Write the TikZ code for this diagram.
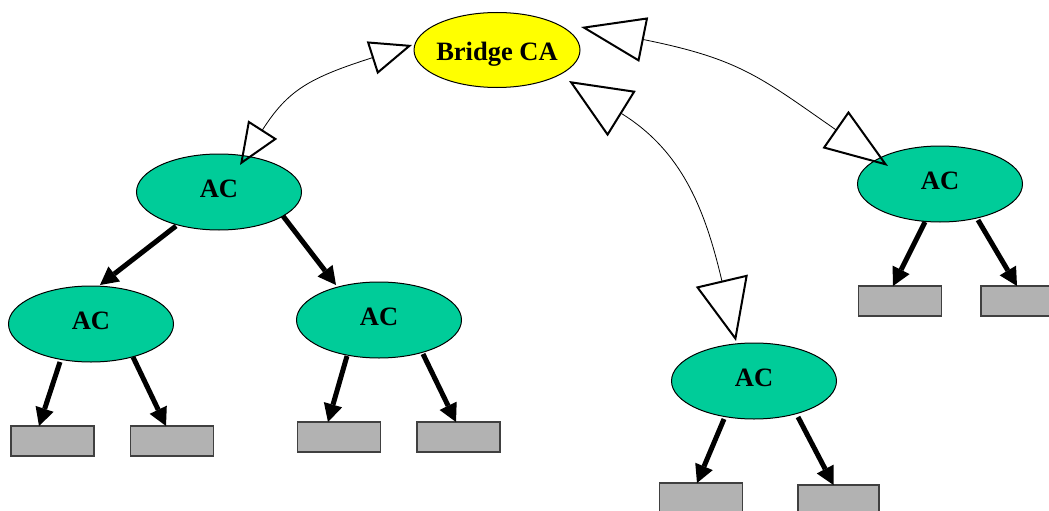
\documentclass[tikz,border=0pt]{standalone}
\usepackage{fontspec}
\setmainfont{Liberation Serif}
\usetikzlibrary{arrows.meta,calc,shapes.geometric}

\definecolor{acgreen}{HTML}{00CC99}
\definecolor{bridgeyellow}{HTML}{FFFF00}
\definecolor{leafgray}{HTML}{B2B2B2}

\tikzset{
  smallhead/.tip={Triangle[open,length=42pt,width=34pt,line width=2pt]},
  bighead/.tip={Triangle[open,length=64pt,width=45pt,line width=2pt]},
  widehead/.tip={Triangle[open,length=62pt,width=53pt,line width=2pt]}
}

\begin{document}
\begin{tikzpicture}[x=1pt,y=-1pt,
  ca/.style={ellipse, draw=black, line width=1pt, inner sep=0pt, outer sep=0pt,
    font=\fontsize{26.5}{30}\selectfont\bfseries},
  acnode/.style={ca, fill=acgreen, minimum width=165pt, minimum height=76pt, text depth=6pt},
  bridgenode/.style={ca, fill=bridgeyellow, minimum width=166pt, minimum height=75pt,
    inner xsep=-4pt, text height=22pt, text depth=0pt},
  leaf/.style={rectangle, draw=black!75, line width=1.2pt, fill=leafgray,
    minimum width=83pt, minimum height=30pt, inner sep=0pt, outer sep=0pt},
  tree/.style={line width=5pt, -{Triangle[length=18pt,width=19pt,line width=0pt]}},
  link/.style={line width=0.8pt}
]
\useasboundingbox (0,0) rectangle (1049,511);
\clip (0,0) rectangle (1049,511);

% certification authorities
\node[bridgenode] (bridge) at (497,50) {Bridge CA};
\node[acnode] (ac1) at (219,192) {AC};
\node[acnode] (ac2) at (91,324) {AC};
\node[acnode] (ac3) at (379,320) {AC};
\node[acnode] (ac4) at (940,184) {AC};
\node[acnode] (ac5) at (754,381) {AC};

% end entities
\node[leaf] (l1) at (52.5,441) {};
\node[leaf] (l2) at (172,441) {};
\node[leaf] (l3) at (339,437) {};
\node[leaf] (l4) at (458.5,437) {};
\node[leaf] (l5) at (701,498) {};
\node[leaf, minimum width=81pt] (l6) at (838.5,500) {};
\node[leaf] (l7) at (900,301) {};
\node[leaf] (l8) at (1022.5,301) {};

% hierarchy
\draw[tree] ($(ac1)+(-43,34)$) -- ($(ac2)+(9,-39)$);
\draw[tree] ($(ac1)+(64,24)$) -- ($(ac3)+(-43,-35)$);
\draw[tree] ($(ac2)+(-31,38)$) -- ($(l1)+(-13.5,-15)$);
\draw[tree] ($(ac2)+(42,33)$) -- ($(l2)+(-6,-15)$);
\draw[tree] ($(ac3)+(-32,36)$) -- ($(l3)+(-11,-15)$);
\draw[tree] ($(ac3)+(44,34)$) -- ($(l4)+(-2.5,-15)$);
\draw[tree] ($(ac5)+(-30,38)$) -- ($(l5)+(-4,-15)$);
\draw[tree] ($(ac5)+(44,36)$) -- ($(l6)+(-5,-15)$);
\draw[tree] ($(ac4)+(-15,38)$) -- ($(l7)+(-7,-15)$);
\draw[tree] ($(ac4)+(38,36)$) -- ($(l8)+(-5.5,-15)$);

% cross-certification with the bridge
\draw[link, smallhead-smallhead] ($(bridge)+(-85,-5)$)
  .. controls +(-103,33) and +(48,-75) .. ($(ac1)+(21,-27)$);
\draw[link, bighead-bighead] ($(bridge)+(84,-23)$)
  .. controls +(159,32) and +(-128,-89) .. ($(ac4)+(-52,-18)$);
\draw[link, widehead-widehead] ($(bridge)+(72,31)$)
  .. controls +(113,70) and +(-31,-132) .. ($(ac5)+(-18,-40)$);
\end{tikzpicture}
\end{document}
